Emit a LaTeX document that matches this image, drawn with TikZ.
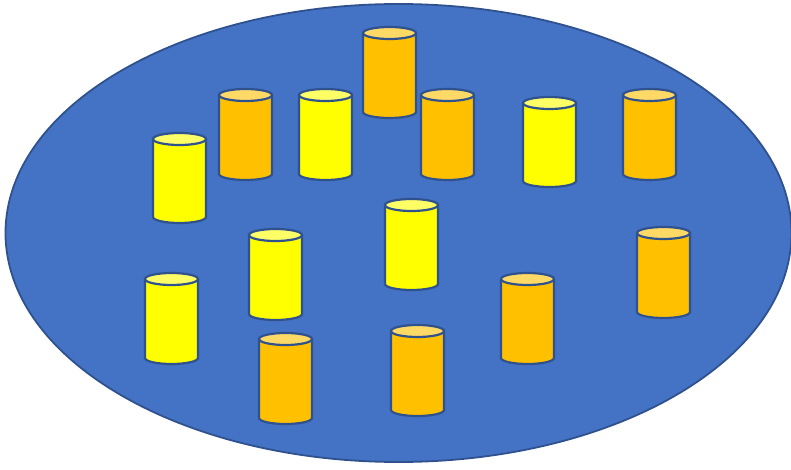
\documentclass[tikz,border=0pt]{standalone}
\definecolor{dish}{HTML}{4472C4}
\definecolor{rim}{HTML}{2F528F}
\definecolor{amber}{HTML}{FFC000}
\definecolor{amberlid}{HTML}{FFD966}
\definecolor{lemon}{HTML}{FFFF00}
\definecolor{lemonlid}{HTML}{FFFF66}
\tikzset{canline/.style={draw=rim, line width=2.2pt, line join=round}}
% a standing can: centre x, top y, bottom y (y counted downwards), body colour, lid colour
\newcommand\can[5]{%
  \filldraw[canline, fill=#4] ({#1-26.5},{463-#2}) -- ({#1-26.5},{475-#3})
    arc[start angle=180, end angle=360, x radius=26.5, y radius=6]
    -- ({#1+26.5},{463-#2}) -- cycle;
  \filldraw[canline, fill=#5] (#1,{463-#2}) ellipse[x radius=26.5, y radius=6];
}
\begin{document}
\begin{tikzpicture}[x=1pt, y=1pt]
  \useasboundingbox (0,0) rectangle (791,469);
  \filldraw[fill=dish, draw=rim, line width=1.8pt] (398.5,236) ellipse[x radius=393, y radius=229];
  % orange cans
  \can{389.5}{27}{118}{amber}{amberlid}
  \can{245.5}{89}{180}{amber}{amberlid}
  \can{447.5}{89}{180}{amber}{amberlid}
  \can{649.5}{89}{180}{amber}{amberlid}
  \can{663.5}{227}{318}{amber}{amberlid}
  \can{527.5}{273}{364}{amber}{amberlid}
  \can{285.5}{333}{424}{amber}{amberlid}
  \can{417.5}{325}{416}{amber}{amberlid}
  % yellow cans
  \can{325.5}{89}{180}{lemon}{lemonlid}
  \can{549.5}{97}{187}{lemon}{lemonlid}
  \can{179.5}{133}{223}{lemon}{lemonlid}
  \can{411.5}{199}{290}{lemon}{lemonlid}
  \can{275.5}{229}{320}{lemon}{lemonlid}
  \can{171.5}{273}{364}{lemon}{lemonlid}
\end{tikzpicture}
\end{document}
